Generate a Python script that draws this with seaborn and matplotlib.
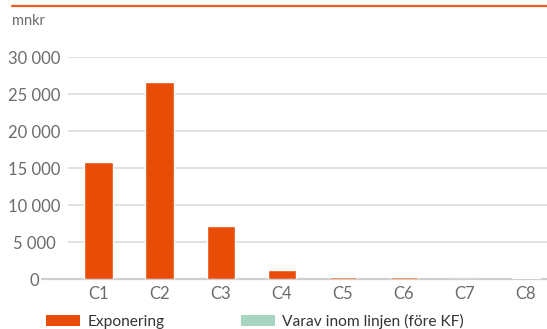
import matplotlib
matplotlib.use("Agg")
import matplotlib.pyplot as plt
from matplotlib.patches import Patch
from matplotlib.lines import Line2D
import seaborn as sns
import pandas as pd

categories = ["C1", "C2", "C3", "C4", "C5", "C6", "C7", "C8"]
exponering = [15850, 26650, 7200, 1200, 260, 250, 60, 140]
series_names = ["Exponering", "Varav inom linjen (före KF)"]
y_ticks = [0, 5000, 10000, 15000, 20000, 25000, 30000]
y_tick_labels = ["0", "5 000", "10 000", "15 000", "20 000", "25 000", "30 000"]
unit_label = "mnkr"

ORANGE = "#e84c06"
GREEN = "#a8d5c2"
TEXT = "#6b6b6b"

sns.set_style("white")
plt.rcParams["font.family"] = ["Lato", "DejaVu Sans"]

df = pd.DataFrame({"cat": categories, "val": exponering})

W, H = 547, 329
fig = plt.figure(figsize=(W / 100, H / 100), dpi=100)
ax = fig.add_axes([68 / W, 1 - 279.3 / H, (W - 68) / W, (279.3 - 57.3) / H])

sns.barplot(data=df, x="cat", y="val", color=ORANGE, width=0.46,
            saturation=1, ax=ax, zorder=3)

ax.set_ylim(0, 30000)
ax.set_xlim(-0.5, 7.35)
ax.set_yticks(y_ticks)
ax.set_yticklabels(y_tick_labels)
ax.set_xlabel("")
ax.set_ylabel("")
for s in ax.spines.values():
    s.set_visible(False)
for y in y_ticks[1:]:
    ax.axhline(y, color="#d9d9d9", lw=1.1, zorder=1)
ax.axhline(0, xmin=-(68 - 42) / (W - 68), xmax=1, color="#cfcfcf", lw=1.6,
           zorder=2, clip_on=False)

ax.tick_params(axis="y", length=0, pad=24, labelsize=12, labelcolor=TEXT)
for t in ax.get_yticklabels():
    t.set_horizontalalignment("center")
ax.tick_params(axis="x", length=0, pad=5, labelsize=12, labelcolor=TEXT)

fig.text(12 / W, 1 - 21 / H, unit_label, fontsize=10.5, color=TEXT,
         va="center", ha="left")

fig.add_artist(Line2D([12 / W, 1], [1 - 5.5 / H, 1 - 5.5 / H],
                      color="#ea5a1e", lw=1.6))

handles = [Patch(facecolor=ORANGE, edgecolor="none"),
           Patch(facecolor=GREEN, edgecolor="none")]
fig.legend(handles, series_names, loc="center left",
           bbox_to_anchor=(46 / W, 1 - 321 / H), ncol=2, frameon=False,
           fontsize=11.2, handlelength=2.2, handleheight=0.7,
           handletextpad=0.45, columnspacing=4.9, labelcolor="#333333",
           borderaxespad=0, borderpad=0)

fig.savefig("out.png", dpi=100)
